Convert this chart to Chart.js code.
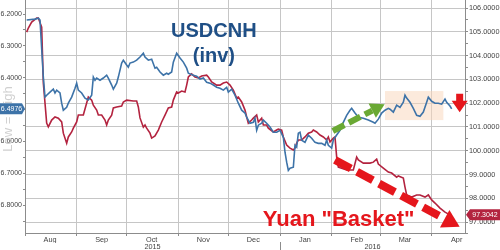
<!DOCTYPE html>
<html>
<head>
<meta charset="utf-8">
<script src="https://cdn.jsdelivr.net/npm/chart.js@4/dist/chart.umd.min.js"></script>
<style>
  html, body { margin: 0; padding: 0; background: #fff; }
  #wrap { width: 500px; height: 250px; }
</style>
</head>
<body>
<div id="wrap"><canvas id="chart" width="500" height="250"></canvas></div>
<script>
// days counted from 1 Aug 2015
const monthStarts = [0, 31, 61, 92, 122, 153, 184, 213, 244];
const monthNames = ["Aug", "Sep", "Oct", "Nov", "Dec", "Jan", "Feb", "Mar", "Apr"];
const yearCenters = [76.5, 208.5];
const yearNames = ["2015", "2016"];
const yearBreak = 153;

const leftTicks = [6.2, 6.3, 6.4, 6.5, 6.6, 6.7, 6.8];
const leftMinorTicks = [6.25, 6.35, 6.45, 6.55, 6.65, 6.75, 6.85];
const rightTicks = [97, 98, 99, 100, 101, 102, 103, 104, 105, 106];
const rightMinorTicks = [96.5, 97.5, 98.5, 99.5, 100.5, 101.5, 102.5, 103.5, 104.5, 105.5];

// USDCNH, left axis (inverted)
const cnhDays = [1, 6, 8, 9, 11, 12, 13, 15, 17, 18, 19, 21, 22, 23, 25, 26, 28, 30, 31, 32,
  34, 36, 38, 40, 41, 42, 43, 45, 47, 49, 50, 52, 53, 55, 56, 58, 59, 61, 62, 63,
  65, 67, 69, 71, 72, 74, 76, 78, 79, 81, 83, 85, 86, 88, 89, 91, 93, 95, 97, 98,
  101, 103, 105, 107, 109, 111, 113, 115, 117, 119, 121, 122, 124, 126, 128, 130, 132, 133, 135, 137,
  138, 139, 140, 142, 143, 145, 147, 149, 151, 153, 155, 156, 157, 158, 159, 161, 162, 163, 164, 165,
  166, 168, 170, 172, 174, 176, 178, 180, 181, 182, 184, 185, 187, 189, 191, 193, 195, 196, 198, 200,
  203, 206, 209, 210, 212, 214, 216, 218, 219, 221, 223, 225, 227, 228, 229, 231, 233, 235, 237, 239,
  241, 242, 244, 246, 248, 250, 252, 253, 255, 256];
const cnhValues = [6.219, 6.216, 6.213, 6.219, 6.398, 6.461, 6.455, 6.445, 6.436, 6.448, 6.439, 6.448, 6.480, 6.502, 6.493, 6.480, 6.461, 6.433, 6.417, 6.439,
  6.448, 6.464, 6.470, 6.455, 6.398, 6.408, 6.401, 6.408, 6.401, 6.392, 6.401, 6.423, 6.436, 6.417, 6.398, 6.354, 6.345, 6.360, 6.367, 6.354,
  6.351, 6.345, 6.335, 6.323, 6.335, 6.345, 6.342, 6.370, 6.367, 6.382, 6.392, 6.386, 6.389, 6.382, 6.351, 6.323, 6.338, 6.351, 6.370, 6.386,
  6.392, 6.395, 6.404, 6.401, 6.414, 6.417, 6.423, 6.430, 6.433, 6.439, 6.430, 6.445, 6.436, 6.455, 6.480, 6.502, 6.511, 6.524, 6.543, 6.540,
  6.527, 6.565, 6.549, 6.543, 6.533, 6.543, 6.555, 6.571, 6.571, 6.565, 6.587, 6.634, 6.665, 6.691, 6.684, 6.681, 6.612, 6.618, 6.574, 6.571,
  6.596, 6.603, 6.580, 6.590, 6.603, 6.606, 6.606, 6.612, 6.596, 6.612, 6.621, 6.596, 6.580, 6.565, 6.540, 6.518, 6.502, 6.496, 6.511, 6.524,
  6.527, 6.533, 6.540, 6.543, 6.530, 6.511, 6.502, 6.496, 6.499, 6.508, 6.486, 6.493, 6.477, 6.455, 6.464, 6.477, 6.496, 6.518, 6.521, 6.508,
  6.477, 6.461, 6.474, 6.480, 6.480, 6.483, 6.467, 6.477, 6.489, 6.4976];

// Yuan basket index, right axis
const basketDays = [1, 2, 4, 7, 8, 10, 11, 13, 14, 16, 18, 20, 22, 23, 25, 26, 28, 29, 31, 32,
  35, 37, 38, 40, 41, 43, 44, 46, 48, 49, 50, 52, 53, 55, 58, 59, 61, 65, 67, 68,
  69, 71, 72, 73, 75, 76, 78, 80, 82, 84, 86, 88, 89, 91, 92, 94, 96, 97, 98, 100,
  102, 104, 106, 109, 110, 112, 115, 117, 119, 121, 123, 125, 127, 128, 130, 132, 133, 134, 136, 137,
  139, 140, 142, 143, 145, 146, 149, 151, 152, 154, 155, 157, 159, 161, 162, 163, 164, 166, 168, 170,
  172, 173, 175, 177, 179, 181, 182, 183, 185, 186, 187, 188, 193, 197, 199, 200, 203, 207, 209, 211,
  212, 215, 218, 220, 223, 224, 227, 228, 229, 232, 235, 237, 240, 242, 244, 246, 249, 252, 255];
const basketValues = [104.99, 105.16, 105.41, 105.58, 105.58, 105.20, 102.85, 101.16, 101.00, 101.29, 101.42, 101.37, 101.21, 100.74, 100.32, 100.58, 100.79, 100.95, 101.21, 101.50,
  101.50, 102.01, 102.26, 102.13, 101.92, 101.71, 101.50, 101.50, 101.29, 101.08, 101.29, 101.50, 101.80, 101.84, 101.88, 102.05, 102.13, 102.09, 102.09, 101.84,
  101.38, 100.99, 101.08, 100.95, 100.74, 100.53, 100.62, 100.87, 101.21, 101.50, 101.80, 101.84, 102.13, 102.47, 102.43, 102.51, 102.47, 102.76, 103.10, 103.23,
  103.10, 103.06, 103.14, 103.18, 103.10, 102.89, 102.76, 102.76, 102.85, 102.89, 102.76, 102.55, 102.22, 102.26, 102.05, 101.71, 101.42, 101.16, 101.29, 101.37,
  101.50, 101.21, 101.37, 101.08, 101.08, 100.95, 100.79, 100.87, 100.91, 100.87, 100.58, 100.24, 100.11, 100.03, 100.11, 100.32, 100.45, 100.45, 100.58, 100.74,
  100.79, 100.87, 100.79, 100.66, 100.58, 100.45, 100.58, 100.37, 100.53, 100.58, 99.73, 99.31, 99.19, 99.19, 99.73, 99.61, 99.48, 99.48, 99.52, 99.65,
  99.44, 99.27, 99.10, 99.06, 98.89, 98.94, 98.85, 98.47, 98.14, 98.05, 98.14, 98.14, 98.05, 98.14, 97.93, 97.80, 97.59, 97.42, 97.3042];

const BLUE = "#3d73a8";
const CRIMSON = "#b3233f";
const RED = "#e5161c";
const GREEN = "#6aa934";
const AXIS = "#8c8c8c";
const DOTS = "#c6c6c6";
const CLEAR = "rgba(0,0,0,0)";
const FAMILY = "'Liberation Sans', Arial, sans-serif";
const TICK_FONT = { family: FAMILY, size: 7.3 };

function toPoints(days, values) {
  return days.map((d, i) => ({ x: d, y: values[i] }));
}

function fixTicks(list, minorList) {
  return (axis) => {
    const major = list.map((v) => ({ value: v, major: true }));
    const minor = (minorList || []).map((v) => ({ value: v, major: false }));
    axis.ticks = major.concat(minor).sort((a, b) => a.value - b.value);
  };
}

function fixSize(w, h) {
  return (axis) => {
    if (w !== null) axis.width = w;
    if (h !== null) axis.height = h;
    axis.paddingTop = 0;
    axis.paddingBottom = 0;
    axis.paddingLeft = 0;
    axis.paddingRight = 0;
  };
}

function dashedArrow(ctx, x0, y0, x1, y1, color, width, dash, headLen, headHalf) {
  const ang = Math.atan2(y1 - y0, x1 - x0);
  const bx = x1 - headLen * Math.cos(ang);
  const by = y1 - headLen * Math.sin(ang);
  ctx.save();
  ctx.strokeStyle = color;
  ctx.fillStyle = color;
  ctx.lineWidth = width;
  ctx.setLineDash(dash);
  ctx.beginPath();
  ctx.moveTo(x0, y0);
  ctx.lineTo(bx, by);
  ctx.stroke();
  ctx.setLineDash([]);
  ctx.beginPath();
  ctx.moveTo(x1, y1);
  ctx.lineTo(bx + headHalf * Math.sin(ang), by - headHalf * Math.cos(ang));
  ctx.lineTo(bx - headHalf * Math.sin(ang), by + headHalf * Math.cos(ang));
  ctx.closePath();
  ctx.fill();
  ctx.restore();
}

function valueTag(ctx, text, x0, x1, yc, fill, pointSide) {
  const h = 11;
  ctx.save();
  ctx.fillStyle = fill;
  ctx.beginPath();
  if (pointSide === "left") {
    ctx.moveTo(x0, yc);
    ctx.lineTo(x0 + 4, yc - h / 2);
    ctx.lineTo(x1, yc - h / 2);
    ctx.lineTo(x1, yc + h / 2);
    ctx.lineTo(x0 + 4, yc + h / 2);
  } else {
    ctx.moveTo(x0, yc - h / 2);
    ctx.lineTo(x1 - 3, yc - h / 2);
    ctx.lineTo(x1, yc);
    ctx.lineTo(x1 - 3, yc + h / 2);
    ctx.lineTo(x0, yc + h / 2);
  }
  ctx.closePath();
  ctx.fill();
  ctx.fillStyle = "#fff";
  ctx.font = "7px " + FAMILY;
  ctx.textAlign = "center";
  ctx.textBaseline = "middle";
  ctx.fillText(text, (x0 + x1) / 2 + (pointSide === "left" ? 2 : -1), yc + 0.5);
  ctx.restore();
}

const annotations = {
  id: "annotations",
  beforeDatasetsDraw(chart) {
    const { ctx, scales } = chart;
    const x = scales.x, yr = scales.yr;
    // shaded range band
    const bx0 = x.getPixelForValue(216), bx1 = x.getPixelForValue(251);
    const by0 = yr.getPixelForValue(102.51), by1 = yr.getPixelForValue(101.29);
    ctx.save();
    ctx.fillStyle = "rgba(250, 214, 185, 0.5)";
    ctx.fillRect(bx0, by0, bx1 - bx0, by1 - by0);
    ctx.restore();
  },
  afterDraw(chart) {
    const { ctx, scales } = chart;
    const x = scales.x, yr = scales.yr, yl = scales.yl;

    // year separator below the month row
    const sx = Math.round(x.getPixelForValue(yearBreak)) + 0.5;
    ctx.save();
    ctx.strokeStyle = AXIS;
    ctx.lineWidth = 1;
    ctx.beginPath();
    ctx.moveTo(sx, 242);
    ctx.lineTo(sx, 250);
    ctx.stroke();
    ctx.restore();

    ctx.save();
    ctx.textAlign = "center";
    ctx.textBaseline = "middle";
    ctx.fillStyle = "#1f4f86";
    ctx.font = "bold 20px " + FAMILY;
    ctx.fillText("USDCNH", x.getPixelForValue(113.3), yr.getPixelForValue(105.0));
    ctx.fillText("(inv)", x.getPixelForValue(113.3), yr.getPixelForValue(103.98));

    ctx.fillStyle = RED;
    ctx.font = "bold 22px " + FAMILY;
    ctx.fillText("Yuan \"Basket\"", x.getPixelForValue(188.2), yr.getPixelForValue(97.07));

    // left axis watermark
    ctx.translate(8, 119);
    ctx.rotate(-Math.PI / 2);
    ctx.fillStyle = "#d0d0d0";
    ctx.font = "13px " + FAMILY;
    ctx.fillText("Low = High", 0, 0);
    ctx.restore();

    dashedArrow(ctx,
      x.getPixelForValue(184.7), yr.getPixelForValue(100.83),
      x.getPixelForValue(215.8), yr.getPixelForValue(101.96),
      GREEN, 6, [13, 5], 14, 8);
    dashedArrow(ctx,
      x.getPixelForValue(186), yr.getPixelForValue(99.61),
      x.getPixelForValue(260.8), yr.getPixelForValue(96.8),
      RED, 8, [18, 7], 17, 10);

    // small down arrow next to the right axis
    const ax = x.getPixelForValue(260.8);
    const ay0 = yr.getPixelForValue(102.4), ay1 = yr.getPixelForValue(101.62);
    ctx.save();
    ctx.fillStyle = RED;
    ctx.beginPath();
    ctx.moveTo(ax - 3.5, ay0);
    ctx.lineTo(ax + 3.5, ay0);
    ctx.lineTo(ax + 3.5, ay0 + 7);
    ctx.lineTo(ax + 8, ay0 + 7);
    ctx.lineTo(ax, ay1);
    ctx.lineTo(ax - 8, ay0 + 7);
    ctx.lineTo(ax - 3.5, ay0 + 7);
    ctx.closePath();
    ctx.fill();
    ctx.restore();

    const lastCnh = cnhValues[cnhValues.length - 1];
    const lastBasket = basketValues[basketValues.length - 1];
    valueTag(ctx, lastCnh.toFixed(4), 0, 25, yl.getPixelForValue(lastCnh), BLUE, "right");
    valueTag(ctx, lastBasket.toFixed(4), 466, 500, yr.getPixelForValue(lastBasket), CRIMSON, "left");
  },
};

const ctx = document.getElementById("chart").getContext("2d");
new Chart(ctx, {
  type: "line",
  data: {
    datasets: [
      {
        label: "USDCNH (inv)",
        data: toPoints(cnhDays, cnhValues),
        xAxisID: "x",
        yAxisID: "yl",
        borderColor: BLUE,
        borderWidth: 1.6,
        pointRadius: 0,
        tension: 0,
      },
      {
        label: "Yuan Basket",
        data: toPoints(basketDays, basketValues),
        xAxisID: "x",
        yAxisID: "yr",
        borderColor: CRIMSON,
        borderWidth: 1.6,
        pointRadius: 0,
        tension: 0,
      },
    ],
  },
  options: {
    responsive: false,
    animation: false,
    layout: { padding: 0 },
    plugins: {
      legend: { display: false },
      tooltip: { enabled: false },
    },
    scales: {
      x: {
        type: "linear",
        position: "bottom",
        min: 0,
        max: 264,
        afterBuildTicks: fixTicks(monthStarts),
        ticks: { display: false },
        grid: {
          color: DOTS,
          borderDash: [1, 2],
          drawTicks: true,
          tickLength: 3,
          tickColor: AXIS,
          tickBorderDash: [],
        },
        border: { color: AXIS },
        afterFit: fixSize(null, 0),
      },
      xm: {
        type: "linear",
        position: "bottom",
        min: 0,
        max: 264,
        afterBuildTicks: fixTicks(monthStarts.map((d) => d + 15)),
        ticks: {
          autoSkip: false,
          maxRotation: 0,
          padding: 3,
          color: "#444",
          font: TICK_FONT,
          callback: (v, i) => monthNames[i],
        },
        grid: { display: false, drawTicks: false },
        border: { display: false },
        afterFit: fixSize(null, 10),
      },
      xy: {
        type: "linear",
        position: "bottom",
        min: 0,
        max: 264,
        afterBuildTicks: fixTicks(yearCenters),
        ticks: {
          autoSkip: false,
          maxRotation: 0,
          padding: 0,
          color: "#444",
          font: TICK_FONT,
          callback: (v, i) => yearNames[i],
        },
        grid: { display: false, drawTicks: false },
        border: { display: false },
        afterFit: fixSize(null, 7),
      },
      yl: {
        type: "linear",
        position: "left",
        reverse: true,
        min: 6.156,
        max: 6.8875,
        afterBuildTicks: fixTicks(leftTicks, leftMinorTicks),
        ticks: {
          autoSkip: false,
          padding: 1,
          color: "#444",
          font: { family: FAMILY, size: 7 },
          callback: function (v, i, ticks) {
            return ticks[i].major ? v.toFixed(4) : "";
          },
        },
        grid: { drawOnChartArea: false, tickLength: 2, color: AXIS },
        border: { color: AXIS },
        afterFit: fixSize(25, null),
      },
      yr: {
        type: "linear",
        position: "right",
        min: 96.54,
        max: 106.34,
        afterBuildTicks: fixTicks(rightTicks, rightMinorTicks),
        ticks: {
          autoSkip: false,
          padding: 1,
          color: "#444",
          font: TICK_FONT,
          callback: function (v, i, ticks) {
            return ticks[i].major ? v.toFixed(4) : "";
          },
        },
        grid: {
          color: (c) => (c.tick && c.tick.major ? DOTS : CLEAR),
          borderDash: [1, 2],
          tickLength: 3,
          tickColor: AXIS,
          tickBorderDash: [],
        },
        border: { color: AXIS },
        afterFit: fixSize(35, null),
      },
    },
  },
  plugins: [annotations],
});
</script>
</body>
</html>
